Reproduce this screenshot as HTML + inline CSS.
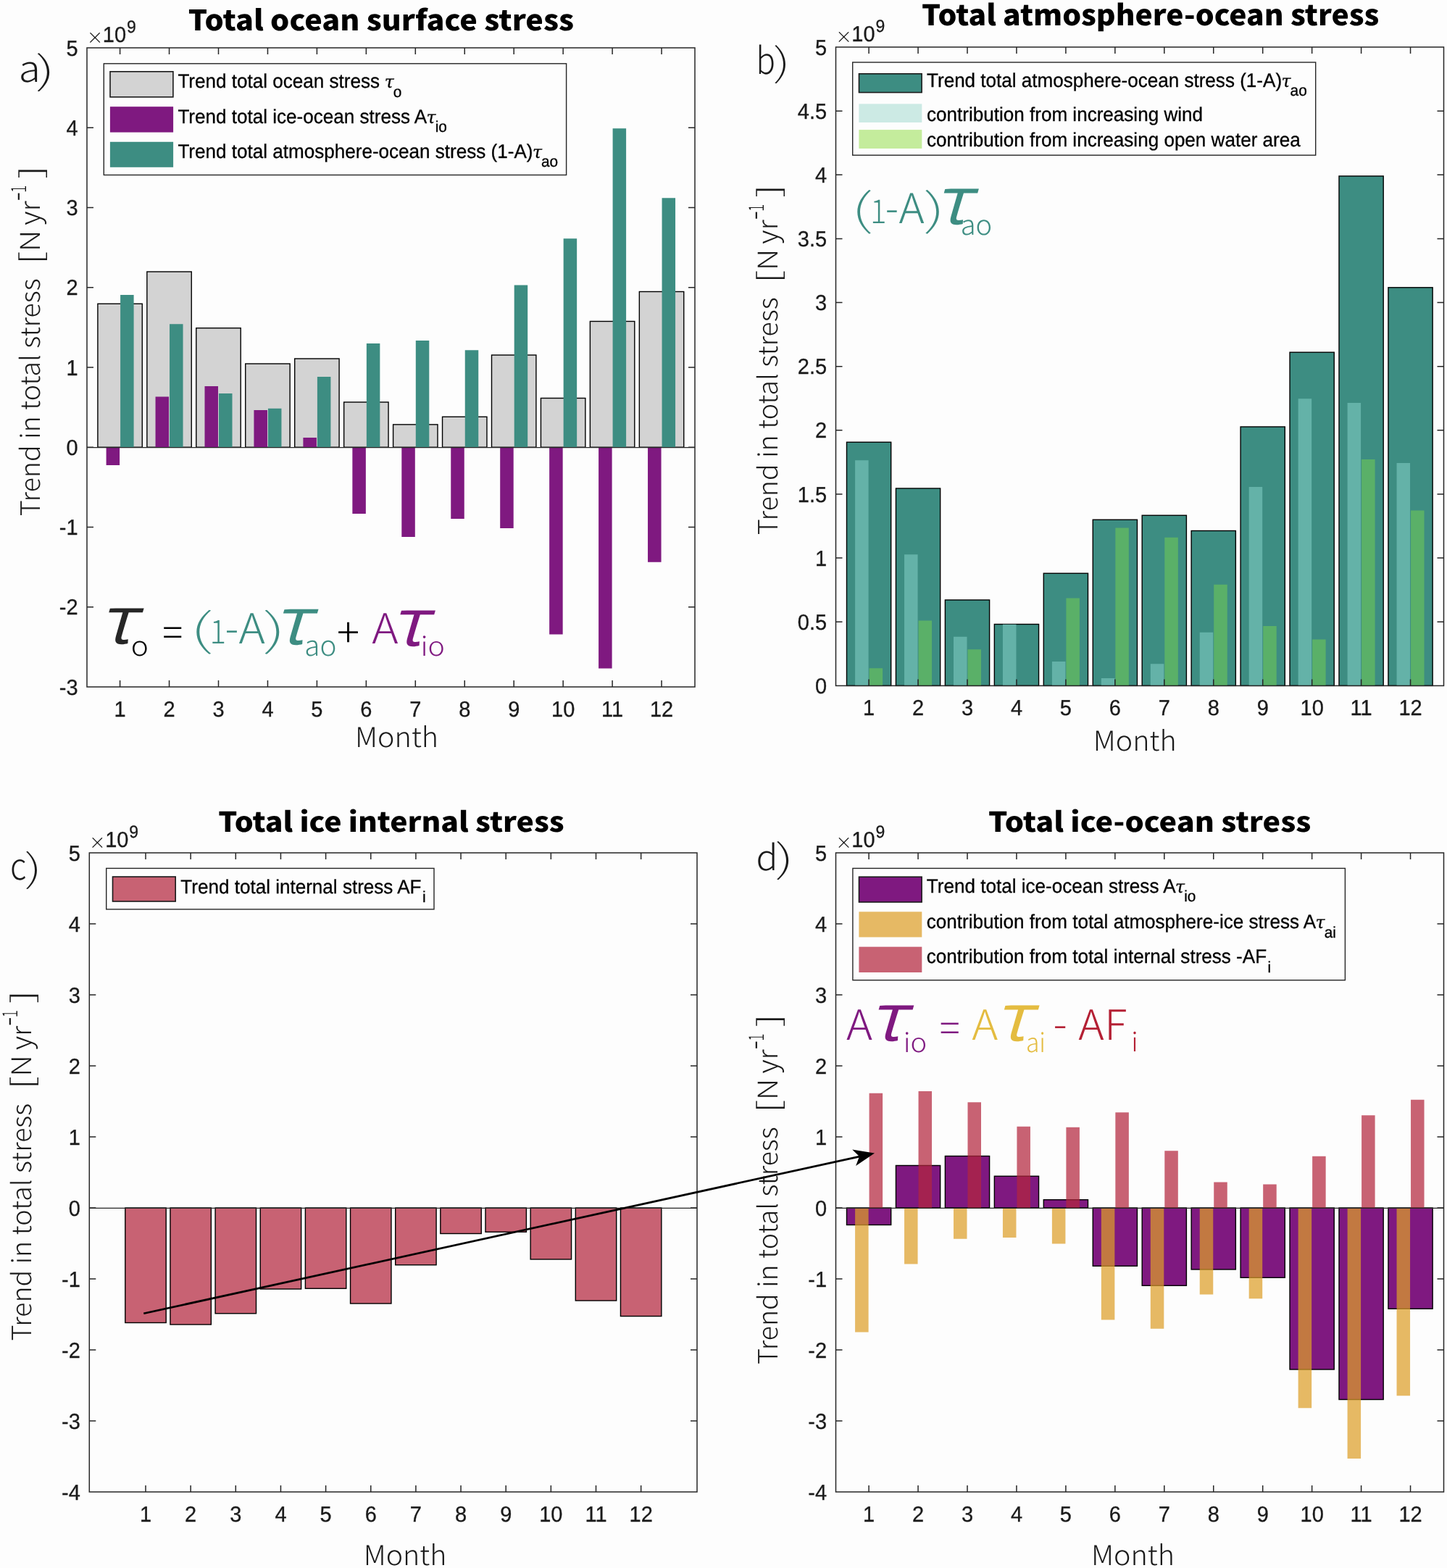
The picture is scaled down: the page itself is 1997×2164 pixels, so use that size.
<!DOCTYPE html>
<html lang="en">
<head>
<meta charset="utf-8">
<title>Trends in total stress</title>
<style>
html,body{margin:0;padding:0;background:#fdfdfd;}
body{width:1997px;height:2164px;overflow:hidden;}
svg{display:block;}
text{white-space:pre;}
</style>
</head>
<body>
<svg width="1997" height="2164" viewBox="0 0 1997 2164" text-rendering="geometricPrecision">
<rect x="0" y="0" width="1997" height="2164" fill="#fdfdfd"/>

<g id="panel-a">
<rect x="134.9" y="419.25" width="61.4" height="198" fill="#d3d3d3" stroke="#000" stroke-width="1.4"/>
<rect x="202.85" y="375" width="61.4" height="242.25" fill="#d3d3d3" stroke="#000" stroke-width="1.4"/>
<rect x="270.8" y="452.75" width="61.4" height="164.5" fill="#d3d3d3" stroke="#000" stroke-width="1.4"/>
<rect x="338.75" y="502" width="61.4" height="115.25" fill="#d3d3d3" stroke="#000" stroke-width="1.4"/>
<rect x="406.7" y="495" width="61.4" height="122.25" fill="#d3d3d3" stroke="#000" stroke-width="1.4"/>
<rect x="474.65" y="555" width="61.4" height="62.25" fill="#d3d3d3" stroke="#000" stroke-width="1.4"/>
<rect x="542.6" y="585.9" width="61.4" height="31.35" fill="#d3d3d3" stroke="#000" stroke-width="1.4"/>
<rect x="610.55" y="575.25" width="61.4" height="42" fill="#d3d3d3" stroke="#000" stroke-width="1.4"/>
<rect x="678.5" y="490" width="61.4" height="127.25" fill="#d3d3d3" stroke="#000" stroke-width="1.4"/>
<rect x="746.45" y="549.5" width="61.4" height="67.75" fill="#d3d3d3" stroke="#000" stroke-width="1.4"/>
<rect x="814.4" y="443.5" width="61.4" height="173.75" fill="#d3d3d3" stroke="#000" stroke-width="1.4"/>
<rect x="882.35" y="402.5" width="61.4" height="214.75" fill="#d3d3d3" stroke="#000" stroke-width="1.4"/>
<rect x="146.6" y="617.25" width="18.5" height="24.75" fill="#7f1980"/>
<rect x="214.55" y="547.5" width="18.5" height="69.75" fill="#7f1980"/>
<rect x="282.5" y="533" width="18.5" height="84.25" fill="#7f1980"/>
<rect x="350.45" y="566" width="18.5" height="51.25" fill="#7f1980"/>
<rect x="418.4" y="604" width="18.5" height="13.25" fill="#7f1980"/>
<rect x="486.35" y="617.25" width="18.5" height="91.75" fill="#7f1980"/>
<rect x="554.3" y="617.25" width="18.5" height="123.75" fill="#7f1980"/>
<rect x="622.25" y="617.25" width="18.5" height="98.75" fill="#7f1980"/>
<rect x="690.2" y="617.25" width="18.5" height="111.75" fill="#7f1980"/>
<rect x="758.15" y="617.25" width="18.5" height="258.25" fill="#7f1980"/>
<rect x="826.1" y="617.25" width="18.5" height="305.25" fill="#7f1980"/>
<rect x="894.05" y="617.25" width="18.5" height="158.5" fill="#7f1980"/>
<rect x="166.1" y="407" width="18.5" height="210.25" fill="#3d8d82"/>
<rect x="234.05" y="447.25" width="18.5" height="170" fill="#3d8d82"/>
<rect x="302" y="543" width="18.5" height="74.25" fill="#3d8d82"/>
<rect x="369.95" y="563.75" width="18.5" height="53.5" fill="#3d8d82"/>
<rect x="437.9" y="520" width="18.5" height="97.25" fill="#3d8d82"/>
<rect x="505.85" y="474" width="18.5" height="143.25" fill="#3d8d82"/>
<rect x="573.8" y="470" width="18.5" height="147.25" fill="#3d8d82"/>
<rect x="641.75" y="483.25" width="18.5" height="134" fill="#3d8d82"/>
<rect x="709.7" y="393.5" width="18.5" height="223.75" fill="#3d8d82"/>
<rect x="777.65" y="329.25" width="18.5" height="288" fill="#3d8d82"/>
<rect x="845.6" y="177.25" width="18.5" height="440" fill="#3d8d82"/>
<rect x="913.55" y="273.25" width="18.5" height="344" fill="#3d8d82"/>
<line x1="120" y1="617.6" x2="959" y2="617.6" stroke="#262626" stroke-width="1.2"/>
<rect x="120" y="66" width="839" height="882" fill="none" stroke="#262626" stroke-width="1.5"/>
<path d="M165.6 948v-9M165.6 66v9M233.55 948v-9M233.55 66v9M301.5 948v-9M301.5 66v9M369.45 948v-9M369.45 66v9M437.4 948v-9M437.4 66v9M505.35 948v-9M505.35 66v9M573.3 948v-9M573.3 66v9M641.25 948v-9M641.25 66v9M709.2 948v-9M709.2 66v9M777.15 948v-9M777.15 66v9M845.1 948v-9M845.1 66v9M913.05 948v-9M913.05 66v9M120 837.75h9M959 837.75h-9M120 727.5h9M959 727.5h-9M120 617.25h9M959 617.25h-9M120 507h9M959 507h-9M120 396.75h9M959 396.75h-9M120 286.5h9M959 286.5h-9M120 176.25h9M959 176.25h-9" fill="none" stroke="#262626" stroke-width="1.5"/>
<g transform="scale(1 1.04)" font-family="'Liberation Sans', Arial, Helvetica, sans-serif" font-size="29" fill="#1a1a1a" stroke="#1a1a1a" stroke-width="0.3">
<g text-anchor="middle">
<text x="165.6" y="950.96">1</text>
<text x="233.55" y="950.96">2</text>
<text x="301.5" y="950.96">3</text>
<text x="369.45" y="950.96">4</text>
<text x="437.4" y="950.96">5</text>
<text x="505.35" y="950.96">6</text>
<text x="573.3" y="950.96">7</text>
<text x="641.25" y="950.96">8</text>
<text x="709.2" y="950.96">9</text>
<text x="777.15" y="950.96">10</text>
<text x="845.1" y="950.96">11</text>
<text x="913.05" y="950.96">12</text>
</g><g text-anchor="end">
<text x="107.6" y="921.73">-3</text>
<text x="107.6" y="815.72">-2</text>
<text x="107.6" y="709.71">-1</text>
<text x="107.6" y="603.7">0</text>
<text x="107.6" y="497.69">1</text>
<text x="107.6" y="391.68">2</text>
<text x="107.6" y="285.67">3</text>
<text x="107.6" y="179.66">4</text>
<text x="107.6" y="73.65">5</text>
</g>
<text x="141.85" y="56.06">10</text>
<text x="175" y="43.37" font-size="23">9</text>
</g>
</g>
<g id="panel-b">
<rect x="1168.5" y="610.25" width="61.2" height="336.15" fill="#3d8d82" stroke="#000" stroke-width="1.4"/>
<rect x="1236.45" y="674" width="61.2" height="272.4" fill="#3d8d82" stroke="#000" stroke-width="1.4"/>
<rect x="1304.4" y="828" width="61.2" height="118.4" fill="#3d8d82" stroke="#000" stroke-width="1.4"/>
<rect x="1372.35" y="861.5" width="61.2" height="84.9" fill="#3d8d82" stroke="#000" stroke-width="1.4"/>
<rect x="1440.3" y="791.25" width="61.2" height="155.15" fill="#3d8d82" stroke="#000" stroke-width="1.4"/>
<rect x="1508.25" y="717.25" width="61.2" height="229.15" fill="#3d8d82" stroke="#000" stroke-width="1.4"/>
<rect x="1576.2" y="711.25" width="61.2" height="235.15" fill="#3d8d82" stroke="#000" stroke-width="1.4"/>
<rect x="1644.15" y="732.5" width="61.2" height="213.9" fill="#3d8d82" stroke="#000" stroke-width="1.4"/>
<rect x="1712.1" y="589" width="61.2" height="357.4" fill="#3d8d82" stroke="#000" stroke-width="1.4"/>
<rect x="1780.05" y="486.2" width="61.2" height="460.2" fill="#3d8d82" stroke="#000" stroke-width="1.4"/>
<rect x="1848" y="243" width="61.2" height="703.4" fill="#3d8d82" stroke="#000" stroke-width="1.4"/>
<rect x="1915.95" y="396.8" width="61.2" height="549.6" fill="#3d8d82" stroke="#000" stroke-width="1.4"/>
<rect x="1180.1" y="635.25" width="18.5" height="311.15" fill="#64b2a8"/>
<rect x="1248.05" y="765.25" width="18.5" height="181.15" fill="#64b2a8"/>
<rect x="1316" y="878.75" width="18.5" height="67.65" fill="#64b2a8"/>
<rect x="1383.95" y="861.75" width="18.5" height="84.65" fill="#64b2a8"/>
<rect x="1451.9" y="913" width="18.5" height="33.4" fill="#64b2a8"/>
<rect x="1519.85" y="936" width="18.5" height="10.4" fill="#64b2a8"/>
<rect x="1587.8" y="916.25" width="18.5" height="30.15" fill="#64b2a8"/>
<rect x="1655.75" y="872.75" width="18.5" height="73.65" fill="#64b2a8"/>
<rect x="1723.7" y="672" width="18.5" height="274.4" fill="#64b2a8"/>
<rect x="1791.65" y="550.25" width="18.5" height="396.15" fill="#64b2a8"/>
<rect x="1859.6" y="556" width="18.5" height="390.4" fill="#64b2a8"/>
<rect x="1927.55" y="639" width="18.5" height="307.4" fill="#64b2a8"/>
<rect x="1199.6" y="922.25" width="18.5" height="24.15" fill="#5ab068"/>
<rect x="1267.55" y="856.5" width="18.5" height="89.9" fill="#5ab068"/>
<rect x="1335.5" y="896.25" width="18.5" height="50.15" fill="#5ab068"/>
<rect x="1471.4" y="825.5" width="18.5" height="120.9" fill="#5ab068"/>
<rect x="1539.35" y="728.5" width="18.5" height="217.9" fill="#5ab068"/>
<rect x="1607.3" y="741.75" width="18.5" height="204.65" fill="#5ab068"/>
<rect x="1675.25" y="806.75" width="18.5" height="139.65" fill="#5ab068"/>
<rect x="1743.2" y="864" width="18.5" height="82.4" fill="#5ab068"/>
<rect x="1811.15" y="882.5" width="18.5" height="63.9" fill="#5ab068"/>
<rect x="1879.1" y="634" width="18.5" height="312.4" fill="#5ab068"/>
<rect x="1947.05" y="704.5" width="18.5" height="241.9" fill="#5ab068"/>
<rect x="1153.5" y="65" width="839" height="881.4" fill="none" stroke="#262626" stroke-width="1.5"/>
<path d="M1199.1 946.4v-9M1199.1 65v9M1267.05 946.4v-9M1267.05 65v9M1335 946.4v-9M1335 65v9M1402.95 946.4v-9M1402.95 65v9M1470.9 946.4v-9M1470.9 65v9M1538.85 946.4v-9M1538.85 65v9M1606.8 946.4v-9M1606.8 65v9M1674.75 946.4v-9M1674.75 65v9M1742.7 946.4v-9M1742.7 65v9M1810.65 946.4v-9M1810.65 65v9M1878.6 946.4v-9M1878.6 65v9M1946.55 946.4v-9M1946.55 65v9M1153.5 858.26h9M1992.5 858.26h-9M1153.5 770.12h9M1992.5 770.12h-9M1153.5 681.98h9M1992.5 681.98h-9M1153.5 593.84h9M1992.5 593.84h-9M1153.5 505.7h9M1992.5 505.7h-9M1153.5 417.56h9M1992.5 417.56h-9M1153.5 329.42h9M1992.5 329.42h-9M1153.5 241.28h9M1992.5 241.28h-9M1153.5 153.14h9M1992.5 153.14h-9" fill="none" stroke="#262626" stroke-width="1.5"/>
<g transform="scale(1 1.04)" font-family="'Liberation Sans', Arial, Helvetica, sans-serif" font-size="29" fill="#1a1a1a" stroke="#1a1a1a" stroke-width="0.3">
<g text-anchor="middle">
<text x="1199.1" y="949.42">1</text>
<text x="1267.05" y="949.42">2</text>
<text x="1335" y="949.42">3</text>
<text x="1402.95" y="949.42">4</text>
<text x="1470.9" y="949.42">5</text>
<text x="1538.85" y="949.42">6</text>
<text x="1606.8" y="949.42">7</text>
<text x="1674.75" y="949.42">8</text>
<text x="1742.7" y="949.42">9</text>
<text x="1810.65" y="949.42">10</text>
<text x="1878.6" y="949.42">11</text>
<text x="1946.55" y="949.42">12</text>
</g><g text-anchor="end">
<text x="1141.1" y="920.19">0</text>
<text x="1141.1" y="835.44">0.5</text>
<text x="1141.1" y="750.69">1</text>
<text x="1141.1" y="665.94">1.5</text>
<text x="1141.1" y="581.19">2</text>
<text x="1141.1" y="496.44">2.5</text>
<text x="1141.1" y="411.69">3</text>
<text x="1141.1" y="326.94">3.5</text>
<text x="1141.1" y="242.19">4</text>
<text x="1141.1" y="157.44">4.5</text>
<text x="1141.1" y="72.69">5</text>
</g>
<text x="1175.35" y="55.1">10</text>
<text x="1208.5" y="42.4" font-size="23">9</text>
</g>
</g>
<g id="panel-c">
<rect x="172.8" y="1667" width="56.4" height="158.5" fill="#c86273" stroke="#000" stroke-width="1.4"/>
<rect x="234.95" y="1667" width="56.4" height="161" fill="#c86273" stroke="#000" stroke-width="1.4"/>
<rect x="297.1" y="1667" width="56.4" height="145.75" fill="#c86273" stroke="#000" stroke-width="1.4"/>
<rect x="359.25" y="1667" width="56.4" height="112" fill="#c86273" stroke="#000" stroke-width="1.4"/>
<rect x="421.4" y="1667" width="56.4" height="111.25" fill="#c86273" stroke="#000" stroke-width="1.4"/>
<rect x="483.55" y="1667" width="56.4" height="132" fill="#c86273" stroke="#000" stroke-width="1.4"/>
<rect x="545.7" y="1667" width="56.4" height="78.75" fill="#c86273" stroke="#000" stroke-width="1.4"/>
<rect x="607.85" y="1667" width="56.4" height="35.5" fill="#c86273" stroke="#000" stroke-width="1.4"/>
<rect x="670" y="1667" width="56.4" height="33.25" fill="#c86273" stroke="#000" stroke-width="1.4"/>
<rect x="732.15" y="1667" width="56.4" height="71" fill="#c86273" stroke="#000" stroke-width="1.4"/>
<rect x="794.3" y="1667" width="56.4" height="128" fill="#c86273" stroke="#000" stroke-width="1.4"/>
<rect x="856.45" y="1667" width="56.4" height="149.5" fill="#c86273" stroke="#000" stroke-width="1.4"/>
<line x1="123.3" y1="1667.35" x2="962" y2="1667.35" stroke="#262626" stroke-width="1.2"/>
<rect x="123.3" y="1177" width="838.7" height="882" fill="none" stroke="#262626" stroke-width="1.5"/>
<path d="M201 2059v-9M201 1177v9M263.15 2059v-9M263.15 1177v9M325.3 2059v-9M325.3 1177v9M387.45 2059v-9M387.45 1177v9M449.6 2059v-9M449.6 1177v9M511.75 2059v-9M511.75 1177v9M573.9 2059v-9M573.9 1177v9M636.05 2059v-9M636.05 1177v9M698.2 2059v-9M698.2 1177v9M760.35 2059v-9M760.35 1177v9M822.5 2059v-9M822.5 1177v9M884.65 2059v-9M884.65 1177v9M123.3 1961h9M962 1961h-9M123.3 1863h9M962 1863h-9M123.3 1765h9M962 1765h-9M123.3 1667h9M962 1667h-9M123.3 1569h9M962 1569h-9M123.3 1471h9M962 1471h-9M123.3 1373h9M962 1373h-9M123.3 1275h9M962 1275h-9" fill="none" stroke="#262626" stroke-width="1.5"/>
<g transform="scale(1 1.04)" font-family="'Liberation Sans', Arial, Helvetica, sans-serif" font-size="29" fill="#1a1a1a" stroke="#1a1a1a" stroke-width="0.3">
<g text-anchor="middle">
<text x="201" y="2019.23">1</text>
<text x="263.15" y="2019.23">2</text>
<text x="325.3" y="2019.23">3</text>
<text x="387.45" y="2019.23">4</text>
<text x="449.6" y="2019.23">5</text>
<text x="511.75" y="2019.23">6</text>
<text x="573.9" y="2019.23">7</text>
<text x="636.05" y="2019.23">8</text>
<text x="698.2" y="2019.23">9</text>
<text x="760.35" y="2019.23">10</text>
<text x="822.5" y="2019.23">11</text>
<text x="884.65" y="2019.23">12</text>
</g><g text-anchor="end">
<text x="110.9" y="1990">-4</text>
<text x="110.9" y="1895.77">-3</text>
<text x="110.9" y="1801.54">-2</text>
<text x="110.9" y="1707.31">-1</text>
<text x="110.9" y="1613.08">0</text>
<text x="110.9" y="1518.85">1</text>
<text x="110.9" y="1424.62">2</text>
<text x="110.9" y="1330.38">3</text>
<text x="110.9" y="1236.15">4</text>
<text x="110.9" y="1141.92">5</text>
</g>
<text x="145.15" y="1124.33">10</text>
<text x="178.3" y="1111.63" font-size="23">9</text>
</g>
</g>
<g id="panel-d">
<rect x="1168.5" y="1667" width="61.2" height="23.5" fill="#7f1980" stroke="#000" stroke-width="1.4"/>
<rect x="1236.45" y="1608.5" width="61.2" height="58.5" fill="#7f1980" stroke="#000" stroke-width="1.4"/>
<rect x="1304.4" y="1595.5" width="61.2" height="71.5" fill="#7f1980" stroke="#000" stroke-width="1.4"/>
<rect x="1372.35" y="1623.25" width="61.2" height="43.75" fill="#7f1980" stroke="#000" stroke-width="1.4"/>
<rect x="1440.3" y="1655.75" width="61.2" height="11.25" fill="#7f1980" stroke="#000" stroke-width="1.4"/>
<rect x="1508.25" y="1667" width="61.2" height="80.25" fill="#7f1980" stroke="#000" stroke-width="1.4"/>
<rect x="1576.2" y="1667" width="61.2" height="107.25" fill="#7f1980" stroke="#000" stroke-width="1.4"/>
<rect x="1644.15" y="1667" width="61.2" height="85" fill="#7f1980" stroke="#000" stroke-width="1.4"/>
<rect x="1712.1" y="1667" width="61.2" height="96.25" fill="#7f1980" stroke="#000" stroke-width="1.4"/>
<rect x="1780.05" y="1667" width="61.2" height="223" fill="#7f1980" stroke="#000" stroke-width="1.4"/>
<rect x="1848" y="1667" width="61.2" height="264.5" fill="#7f1980" stroke="#000" stroke-width="1.4"/>
<rect x="1915.95" y="1667" width="61.2" height="139.25" fill="#7f1980" stroke="#000" stroke-width="1.4"/>
<rect x="1180.1" y="1667" width="18.5" height="171.5" fill="#dc9e28" fill-opacity="0.72"/>
<rect x="1248.05" y="1667" width="18.5" height="77.5" fill="#dc9e28" fill-opacity="0.72"/>
<rect x="1316" y="1667" width="18.5" height="42.75" fill="#dc9e28" fill-opacity="0.72"/>
<rect x="1383.95" y="1667" width="18.5" height="41" fill="#dc9e28" fill-opacity="0.72"/>
<rect x="1451.9" y="1667" width="18.5" height="49.5" fill="#dc9e28" fill-opacity="0.72"/>
<rect x="1519.85" y="1667" width="18.5" height="154.5" fill="#dc9e28" fill-opacity="0.72"/>
<rect x="1587.8" y="1667" width="18.5" height="166.75" fill="#dc9e28" fill-opacity="0.72"/>
<rect x="1655.75" y="1667" width="18.5" height="119.5" fill="#dc9e28" fill-opacity="0.72"/>
<rect x="1723.7" y="1667" width="18.5" height="125.25" fill="#dc9e28" fill-opacity="0.72"/>
<rect x="1791.65" y="1667" width="18.5" height="276.25" fill="#dc9e28" fill-opacity="0.72"/>
<rect x="1859.6" y="1667" width="18.5" height="346" fill="#dc9e28" fill-opacity="0.72"/>
<rect x="1927.55" y="1667" width="18.5" height="259.25" fill="#dc9e28" fill-opacity="0.72"/>
<rect x="1199.6" y="1508.75" width="18.5" height="158.25" fill="#b3253d" fill-opacity="0.72"/>
<rect x="1267.55" y="1506" width="18.5" height="161" fill="#b3253d" fill-opacity="0.72"/>
<rect x="1335.5" y="1521.25" width="18.5" height="145.75" fill="#b3253d" fill-opacity="0.72"/>
<rect x="1403.45" y="1554.75" width="18.5" height="112.25" fill="#b3253d" fill-opacity="0.72"/>
<rect x="1471.4" y="1555.75" width="18.5" height="111.25" fill="#b3253d" fill-opacity="0.72"/>
<rect x="1539.35" y="1535.25" width="18.5" height="131.75" fill="#b3253d" fill-opacity="0.72"/>
<rect x="1607.3" y="1588.25" width="18.5" height="78.75" fill="#b3253d" fill-opacity="0.72"/>
<rect x="1675.25" y="1631.5" width="18.5" height="35.5" fill="#b3253d" fill-opacity="0.72"/>
<rect x="1743.2" y="1634.5" width="18.5" height="32.5" fill="#b3253d" fill-opacity="0.72"/>
<rect x="1811.15" y="1595.75" width="18.5" height="71.25" fill="#b3253d" fill-opacity="0.72"/>
<rect x="1879.1" y="1539.25" width="18.5" height="127.75" fill="#b3253d" fill-opacity="0.72"/>
<rect x="1947.05" y="1517.75" width="18.5" height="149.25" fill="#b3253d" fill-opacity="0.72"/>
<line x1="1153.5" y1="1667.35" x2="1992.5" y2="1667.35" stroke="#262626" stroke-width="1.2"/>
<rect x="1153.5" y="1177" width="839" height="882" fill="none" stroke="#262626" stroke-width="1.5"/>
<path d="M1199.1 2059v-9M1199.1 1177v9M1267.05 2059v-9M1267.05 1177v9M1335 2059v-9M1335 1177v9M1402.95 2059v-9M1402.95 1177v9M1470.9 2059v-9M1470.9 1177v9M1538.85 2059v-9M1538.85 1177v9M1606.8 2059v-9M1606.8 1177v9M1674.75 2059v-9M1674.75 1177v9M1742.7 2059v-9M1742.7 1177v9M1810.65 2059v-9M1810.65 1177v9M1878.6 2059v-9M1878.6 1177v9M1946.55 2059v-9M1946.55 1177v9M1153.5 1961h9M1992.5 1961h-9M1153.5 1863h9M1992.5 1863h-9M1153.5 1765h9M1992.5 1765h-9M1153.5 1667h9M1992.5 1667h-9M1153.5 1569h9M1992.5 1569h-9M1153.5 1471h9M1992.5 1471h-9M1153.5 1373h9M1992.5 1373h-9M1153.5 1275h9M1992.5 1275h-9" fill="none" stroke="#262626" stroke-width="1.5"/>
<g transform="scale(1 1.04)" font-family="'Liberation Sans', Arial, Helvetica, sans-serif" font-size="29" fill="#1a1a1a" stroke="#1a1a1a" stroke-width="0.3">
<g text-anchor="middle">
<text x="1199.1" y="2019.23">1</text>
<text x="1267.05" y="2019.23">2</text>
<text x="1335" y="2019.23">3</text>
<text x="1402.95" y="2019.23">4</text>
<text x="1470.9" y="2019.23">5</text>
<text x="1538.85" y="2019.23">6</text>
<text x="1606.8" y="2019.23">7</text>
<text x="1674.75" y="2019.23">8</text>
<text x="1742.7" y="2019.23">9</text>
<text x="1810.65" y="2019.23">10</text>
<text x="1878.6" y="2019.23">11</text>
<text x="1946.55" y="2019.23">12</text>
</g><g text-anchor="end">
<text x="1141.1" y="1990">-4</text>
<text x="1141.1" y="1895.77">-3</text>
<text x="1141.1" y="1801.54">-2</text>
<text x="1141.1" y="1707.31">-1</text>
<text x="1141.1" y="1613.08">0</text>
<text x="1141.1" y="1518.85">1</text>
<text x="1141.1" y="1424.62">2</text>
<text x="1141.1" y="1330.38">3</text>
<text x="1141.1" y="1236.15">4</text>
<text x="1141.1" y="1141.92">5</text>
</g>
<text x="1175.35" y="1124.33">10</text>
<text x="1208.5" y="1111.63" font-size="23">9</text>
</g>
</g>
<rect x="143.3" y="87.8" width="638.3" height="153.7" fill="#fdfdfd" stroke="#262626" stroke-width="1.4"/>
<rect x="152" y="98.8" width="86.9" height="35.1" fill="#d3d3d3" stroke="#1a1a1a" stroke-width="1.6"/>
<rect x="151.9" y="147.2" width="87.2" height="35.4" fill="#7f1980"/>
<rect x="151.9" y="195.8" width="87.2" height="35" fill="#3d8d82"/>
<text transform="translate(245.4 121.3) scale(1 1.035)" font-family="'Liberation Sans', Arial, Helvetica, sans-serif" font-size="26.07" fill="#000" stroke="#000" stroke-width="0.3">Trend total ocean stress <tspan font-family="'DejaVu Serif', 'Liberation Serif', serif" font-style="italic" font-size="23.5" dx="-0.6">τ</tspan><tspan font-size="20.8" dy="12.08" dx="-0.9">o</tspan></text>
<text transform="translate(245.4 169.5) scale(1 1.035)" font-family="'Liberation Sans', Arial, Helvetica, sans-serif" font-size="26.07" fill="#000" stroke="#000" stroke-width="0.3">Trend total ice-ocean stress A<tspan font-family="'DejaVu Serif', 'Liberation Serif', serif" font-style="italic" font-size="23.5" dx="-0.6">τ</tspan><tspan font-size="20.8" dy="12.08" dx="-0.9">io</tspan></text>
<text transform="translate(245.4 217.7) scale(1 1.035)" font-family="'Liberation Sans', Arial, Helvetica, sans-serif" font-size="26.07" fill="#000" stroke="#000" stroke-width="0.3">Trend total atmosphere-ocean stress (1-A)<tspan font-family="'DejaVu Serif', 'Liberation Serif', serif" font-style="italic" font-size="23.5" dx="-0.6">τ</tspan><tspan font-size="20.8" dy="12.08" dx="-0.9">ao</tspan></text>
<rect x="1176.7" y="86" width="639" height="128.2" fill="#fdfdfd" stroke="#262626" stroke-width="1.4"/>
<rect x="1185.5" y="101.8" width="86.6" height="25.8" fill="#3d8d82" stroke="#1a1a1a" stroke-width="1.6"/>
<rect x="1185.4" y="143.4" width="86.9" height="25.6" fill="#cceae4"/>
<rect x="1185.4" y="179.1" width="86.9" height="25.9" fill="#c4ec9c"/>
<text transform="translate(1279 119.5) scale(1 1.035)" font-family="'Liberation Sans', Arial, Helvetica, sans-serif" font-size="26.07" fill="#000" stroke="#000" stroke-width="0.3">Trend total atmosphere-ocean stress (1-A)<tspan font-family="'DejaVu Serif', 'Liberation Serif', serif" font-style="italic" font-size="23.5" dx="-0.6">τ</tspan><tspan font-size="20.8" dy="12.08" dx="-0.9">ao</tspan></text>
<text transform="translate(1279 167) scale(1 1.035)" font-family="'Liberation Sans', Arial, Helvetica, sans-serif" font-size="26.07" fill="#000" stroke="#000" stroke-width="0.3">contribution from increasing wind</text>
<text transform="translate(1279 202.3) scale(1 1.035)" font-family="'Liberation Sans', Arial, Helvetica, sans-serif" font-size="26.07" fill="#000" stroke="#000" stroke-width="0.3">contribution from increasing open water area</text>
<rect x="146.7" y="1198.4" width="452.3" height="56.5" fill="#fdfdfd" stroke="#262626" stroke-width="1.4"/>
<rect x="155.5" y="1210" width="86.7" height="34" fill="#c86273" stroke="#1a1a1a" stroke-width="1.6"/>
<text transform="translate(249.3 1232.5) scale(1 1.035)" font-family="'Liberation Sans', Arial, Helvetica, sans-serif" font-size="26.07" fill="#000" stroke="#000" stroke-width="0.3">Trend total internal stress AF<tspan font-size="20.8" dy="12.08" dx="1.5">i</tspan></text>
<rect x="1176.9" y="1198.4" width="679.5" height="154.3" fill="#fdfdfd" stroke="#262626" stroke-width="1.4"/>
<rect x="1185.5" y="1210.2" width="86.6" height="34.8" fill="#7f1980" stroke="#1a1a1a" stroke-width="1.6"/>
<rect x="1185.4" y="1258.3" width="86.9" height="35.1" fill="#e6b964"/>
<rect x="1185.4" y="1306.7" width="86.9" height="35.3" fill="#c86273"/>
<text transform="translate(1278.8 1231.9) scale(1 1.035)" font-family="'Liberation Sans', Arial, Helvetica, sans-serif" font-size="26.07" fill="#000" stroke="#000" stroke-width="0.3">Trend total ice-ocean stress A<tspan font-family="'DejaVu Serif', 'Liberation Serif', serif" font-style="italic" font-size="23.5" dx="-0.6">τ</tspan><tspan font-size="20.8" dy="12.08" dx="-0.9">io</tspan></text>
<text transform="translate(1278.8 1281.1) scale(1 1.035)" font-family="'Liberation Sans', Arial, Helvetica, sans-serif" font-size="26.07" fill="#000" stroke="#000" stroke-width="0.3">contribution from total atmosphere-ice stress A<tspan font-family="'DejaVu Serif', 'Liberation Serif', serif" font-style="italic" font-size="23.5" dx="-0.6">τ</tspan><tspan font-size="20.8" dy="12.08" dx="-0.9">ai</tspan></text>
<text transform="translate(1278.8 1329.2) scale(1 1.035)" font-family="'Liberation Sans', Arial, Helvetica, sans-serif" font-size="26.07" fill="#000" stroke="#000" stroke-width="0.3">contribution from total internal stress -AF<tspan font-size="20.8" dy="12.08" dx="1.5">i</tspan></text>
<text transform="translate(259.86 41.7) scale(1.0612 1)" font-family="'Noto Sans CJK JP', 'Noto Sans CJK SC', 'Liberation Sans', sans-serif" font-weight="900" font-size="38.89" fill="#000">Total ocean surface stress</text>
<text transform="translate(1272.08 35.3) scale(1.0363 1)" font-family="'Noto Sans CJK JP', 'Noto Sans CJK SC', 'Liberation Sans', sans-serif" font-weight="900" font-size="39.38" fill="#000">Total atmosphere-ocean stress</text>
<text transform="translate(301.27 1148.2) scale(1.0771 1)" font-family="'Noto Sans CJK JP', 'Noto Sans CJK SC', 'Liberation Sans', sans-serif" font-weight="900" font-size="37.95" fill="#000">Total ice internal stress</text>
<text transform="translate(1363.96 1147.7) scale(1.0891 1)" font-family="'Noto Sans CJK JP', 'Noto Sans CJK SC', 'Liberation Sans', sans-serif" font-weight="900" font-size="37.95" fill="#000">Total ice-ocean stress</text>
<text transform="translate(490.06 1030.9) scale(1.0454 1)" font-family="'Noto Sans CJK JP', 'Noto Sans CJK SC', 'Liberation Sans', sans-serif" font-weight="300" font-size="37.74" fill="#1a1a1a">Month</text>
<text transform="translate(1508.76 1035.8) scale(1.0444 1)" font-family="'Noto Sans CJK JP', 'Noto Sans CJK SC', 'Liberation Sans', sans-serif" font-weight="300" font-size="37.74" fill="#1a1a1a">Month</text>
<text transform="translate(501.67 2159.9) scale(1.0425 1)" font-family="'Noto Sans CJK JP', 'Noto Sans CJK SC', 'Liberation Sans', sans-serif" font-weight="300" font-size="37.74" fill="#1a1a1a">Month</text>
<text transform="translate(1505.95 2159.9) scale(1.0464 1)" font-family="'Noto Sans CJK JP', 'Noto Sans CJK SC', 'Liberation Sans', sans-serif" font-weight="300" font-size="37.74" fill="#1a1a1a">Month</text>
<text transform="translate(25.73 113) scale(1.0927 1)" font-family="'Noto Sans CJK JP', 'Noto Sans CJK SC', 'Liberation Sans', sans-serif" font-weight="300" font-size="50.28" fill="#1a1a1a">a</text>
<text transform="translate(48.56 116.41) scale(1.8479 1)" font-family="'Noto Sans CJK JP', 'Noto Sans CJK SC', 'Liberation Sans', sans-serif" font-weight="100" font-size="53.13" fill="#1a1a1a">)</text>
<text transform="translate(1043.52 102.3) scale(0.8593 1)" font-family="'Noto Sans CJK JP', 'Noto Sans CJK SC', 'Liberation Sans', sans-serif" font-weight="300" font-size="50.94" fill="#1a1a1a">b</text>
<text transform="translate(1066.55 104.71) scale(1.6426 1)" font-family="'Noto Sans CJK JP', 'Noto Sans CJK SC', 'Liberation Sans', sans-serif" font-weight="100" font-size="53.13" fill="#1a1a1a">)</text>
<text transform="translate(13.95 1214.2) scale(0.8677 1)" font-family="'Noto Sans CJK JP', 'Noto Sans CJK SC', 'Liberation Sans', sans-serif" font-weight="300" font-size="51.38" fill="#1a1a1a">c</text>
<text transform="translate(33.3 1216.6) scale(1.6814 1)" font-family="'Noto Sans CJK JP', 'Noto Sans CJK SC', 'Liberation Sans', sans-serif" font-weight="100" font-size="52.63" fill="#1a1a1a">)</text>
<text transform="translate(1043.47 1200.7) scale(1.0233 1)" font-family="'Noto Sans CJK JP', 'Noto Sans CJK SC', 'Liberation Sans', sans-serif" font-weight="300" font-size="48.43" fill="#1a1a1a">d</text>
<text transform="translate(1068.95 1204.25) scale(1.7921 1)" font-family="'Noto Sans CJK JP', 'Noto Sans CJK SC', 'Liberation Sans', sans-serif" font-weight="100" font-size="53.43" fill="#1a1a1a">)</text>
<text transform="translate(135.05 887.6) scale(1.1517 1)" font-family="'Noto Sans CJK JP', 'Noto Sans CJK SC', 'Liberation Sans', sans-serif" font-weight="350" font-style="italic" font-size="90" fill="#262626">τ</text>
<text transform="translate(180.67 904.73) scale(1.0890 1)" font-family="'Noto Sans CJK JP', 'Noto Sans CJK SC', 'Liberation Sans', sans-serif" font-weight="300" font-size="37.3" fill="#000">o</text>
<text transform="translate(224.27 891.6) scale(0.9936 1)" font-family="'Noto Sans CJK JP', 'Noto Sans CJK SC', 'Liberation Sans', sans-serif" font-weight="300" font-size="52.59" fill="#000">=</text>
<text transform="translate(259.56 891.33) scale(1.9441 1)" font-family="'Noto Sans CJK JP', 'Noto Sans CJK SC', 'Liberation Sans', sans-serif" font-weight="100" font-size="61.41" fill="#3d8d82">(</text>
<text transform="translate(289.61 888.2) scale(0.9305 1)" font-family="'Noto Sans CJK JP', 'Noto Sans CJK SC', 'Liberation Sans', sans-serif" font-weight="300" font-size="45.25" fill="#3d8d82">1</text>
<text transform="translate(310.47 886.4) scale(1.0832 1)" font-family="'Noto Sans CJK JP', 'Noto Sans CJK SC', 'Liberation Sans', sans-serif" font-weight="300" font-size="52" fill="#3d8d82">-</text>
<text transform="translate(329.58 888.2) scale(1.0785 1)" font-family="'Noto Sans CJK JP', 'Noto Sans CJK SC', 'Liberation Sans', sans-serif" font-weight="300" font-size="57.26" fill="#3d8d82">A</text>
<text transform="translate(361.68 891.33) scale(1.9145 1)" font-family="'Noto Sans CJK JP', 'Noto Sans CJK SC', 'Liberation Sans', sans-serif" font-weight="100" font-size="61.41" fill="#3d8d82">)</text>
<text transform="translate(375.45 889.41) scale(1.1660 1)" font-family="'Noto Sans CJK JP', 'Noto Sans CJK SC', 'Liberation Sans', sans-serif" font-weight="350" font-style="italic" font-size="89.45" fill="#3d8d82">τ</text>
<text transform="translate(420.29 905.11) scale(0.9971 1)" font-family="'Noto Sans CJK JP', 'Noto Sans CJK SC', 'Liberation Sans', sans-serif" font-weight="300" font-size="38.74" fill="#3d8d82">ao</text>
<text transform="translate(465.07 892.81) scale(1.0384 1)" font-family="'Noto Sans CJK JP', 'Noto Sans CJK SC', 'Liberation Sans', sans-serif" font-weight="300" font-size="55.92" fill="#000">+</text>
<text transform="translate(513.18 888.2) scale(1.0785 1)" font-family="'Noto Sans CJK JP', 'Noto Sans CJK SC', 'Liberation Sans', sans-serif" font-weight="300" font-size="57.26" fill="#7f1980">A</text>
<text transform="translate(536.99 891.1) scale(1.1565 1)" font-family="'Noto Sans CJK JP', 'Noto Sans CJK SC', 'Liberation Sans', sans-serif" font-weight="350" font-style="italic" font-size="90" fill="#7f1980">τ</text>
<text transform="translate(580.46 905.1) scale(1.0711 1)" font-family="'Noto Sans CJK JP', 'Noto Sans CJK SC', 'Liberation Sans', sans-serif" font-weight="300" font-size="36.69" fill="#7f1980">io</text>
<text transform="translate(1172.25 310.53) scale(1.8308 1)" font-family="'Noto Sans CJK JP', 'Noto Sans CJK SC', 'Liberation Sans', sans-serif" font-weight="100" font-size="60.91" fill="#3d8d82">(</text>
<text transform="translate(1200.91 307.5) scale(0.9219 1)" font-family="'Noto Sans CJK JP', 'Noto Sans CJK SC', 'Liberation Sans', sans-serif" font-weight="300" font-size="45.67" fill="#3d8d82">1</text>
<text transform="translate(1221.84 305.6) scale(1.0518 1)" font-family="'Noto Sans CJK JP', 'Noto Sans CJK SC', 'Liberation Sans', sans-serif" font-weight="300" font-size="52" fill="#3d8d82">-</text>
<text transform="translate(1240.6 307.5) scale(1.0523 1)" font-family="'Noto Sans CJK JP', 'Noto Sans CJK SC', 'Liberation Sans', sans-serif" font-weight="300" font-size="56.85" fill="#3d8d82">A</text>
<text transform="translate(1273.64 310.53) scale(1.8109 1)" font-family="'Noto Sans CJK JP', 'Noto Sans CJK SC', 'Liberation Sans', sans-serif" font-weight="100" font-size="60.91" fill="#3d8d82">)</text>
<text transform="translate(1287.42 309.2) scale(1.1516 1)" font-family="'Noto Sans CJK JP', 'Noto Sans CJK SC', 'Liberation Sans', sans-serif" font-weight="350" font-style="italic" font-size="89.64" fill="#3d8d82">τ</text>
<text transform="translate(1325.72 324.32) scale(1.0031 1)" font-family="'Noto Sans CJK JP', 'Noto Sans CJK SC', 'Liberation Sans', sans-serif" font-weight="300" font-size="38.02" fill="#3d8d82">ao</text>
<text transform="translate(1168.09 1434.8) scale(1.0693 1)" font-family="'Noto Sans CJK JP', 'Noto Sans CJK SC', 'Liberation Sans', sans-serif" font-weight="300" font-size="57.26" fill="#7f1980">A</text>
<text transform="translate(1197.15 1436.3) scale(1.1636 1)" font-family="'Noto Sans CJK JP', 'Noto Sans CJK SC', 'Liberation Sans', sans-serif" font-weight="350" font-style="italic" font-size="89.64" fill="#7f1980">τ</text>
<text transform="translate(1246.76 1451.7) scale(1.0403 1)" font-family="'Noto Sans CJK JP', 'Noto Sans CJK SC', 'Liberation Sans', sans-serif" font-weight="300" font-size="36.69" fill="#7f1980">io</text>
<text transform="translate(1296.77 1438.1) scale(0.9936 1)" font-family="'Noto Sans CJK JP', 'Noto Sans CJK SC', 'Liberation Sans', sans-serif" font-weight="300" font-size="52.59" fill="#7f1980">=</text>
<text transform="translate(1341.19 1434.8) scale(1.0693 1)" font-family="'Noto Sans CJK JP', 'Noto Sans CJK SC', 'Liberation Sans', sans-serif" font-weight="300" font-size="57.26" fill="#e4bc40">A</text>
<text transform="translate(1370.55 1436.3) scale(1.1636 1)" font-family="'Noto Sans CJK JP', 'Noto Sans CJK SC', 'Liberation Sans', sans-serif" font-weight="350" font-style="italic" font-size="89.64" fill="#e4bc40">τ</text>
<text transform="translate(1415.91 1451.7) scale(0.9168 1)" font-family="'Noto Sans CJK JP', 'Noto Sans CJK SC', 'Liberation Sans', sans-serif" font-weight="300" font-size="36.69" fill="#e4bc40">ai</text>
<text transform="translate(1453.51 1432.2) scale(1.1068 1)" font-family="'Noto Sans CJK JP', 'Noto Sans CJK SC', 'Liberation Sans', sans-serif" font-weight="300" font-size="52" fill="#b42034">-</text>
<text transform="translate(1488.3 1434.8) scale(1.0540 1)" font-family="'Noto Sans CJK JP', 'Noto Sans CJK SC', 'Liberation Sans', sans-serif" font-weight="300" font-size="57.26" fill="#b42034">A</text>
<text transform="translate(1524.28 1434.8) scale(1.0177 1)" font-family="'Noto Sans CJK JP', 'Noto Sans CJK SC', 'Liberation Sans', sans-serif" font-weight="300" font-size="57.26" fill="#b42034">F</text>
<text transform="translate(1561.28 1451.3) scale(1.0140 1)" font-family="'Noto Sans CJK JP', 'Noto Sans CJK SC', 'Liberation Sans', sans-serif" font-weight="300" font-size="36.16" fill="#b42034">i</text>
<g transform="translate(55.4 711.1) rotate(-90) scale(1 1)"><text transform="translate(-1.12 0) scale(1.0157 1)" font-family="'Noto Sans CJK JP', 'Noto Sans CJK SC', 'Liberation Sans', sans-serif" font-weight="300" font-size="36.86" fill="#1a1a1a">Trend in total stress</text><text transform="translate(345.84 2.92) scale(1.3861 1)" font-family="'Noto Sans CJK JP', 'Noto Sans CJK SC', 'Liberation Sans', sans-serif" font-weight="300" font-size="41.68" fill="#1a1a1a">[</text><text transform="translate(363.79 0) scale(1.1236 1)" font-family="'Noto Sans CJK JP', 'Noto Sans CJK SC', 'Liberation Sans', sans-serif" font-weight="300" font-size="37.4" fill="#1a1a1a">N</text><text transform="translate(400.41 0) scale(1.0361 1)" font-family="'Noto Sans CJK JP', 'Noto Sans CJK SC', 'Liberation Sans', sans-serif" font-weight="300" font-size="37.8" fill="#1a1a1a">yr</text><text transform="translate(433.61 -17.4) scale(0.8534 1)" font-family="'Noto Sans CJK JP', 'Noto Sans CJK SC', 'Liberation Sans', sans-serif" font-weight="300" font-size="44" fill="#1a1a1a">-</text><text transform="translate(445.19 -19.4) scale(0.6548 1)" font-family="'Noto Sans CJK JP', 'Noto Sans CJK SC', 'Liberation Sans', sans-serif" font-weight="300" font-size="28.94" fill="#1a1a1a">1</text><text transform="translate(464.66 2.92) scale(1.3861 1)" font-family="'Noto Sans CJK JP', 'Noto Sans CJK SC', 'Liberation Sans', sans-serif" font-weight="300" font-size="41.68" fill="#1a1a1a">]</text></g>
<g transform="translate(1073.4 737.1) rotate(-90) scale(1 1)"><text transform="translate(-1.12 0) scale(1.0157 1)" font-family="'Noto Sans CJK JP', 'Noto Sans CJK SC', 'Liberation Sans', sans-serif" font-weight="300" font-size="36.86" fill="#1a1a1a">Trend in total stress</text><text transform="translate(345.84 2.92) scale(1.3861 1)" font-family="'Noto Sans CJK JP', 'Noto Sans CJK SC', 'Liberation Sans', sans-serif" font-weight="300" font-size="41.68" fill="#1a1a1a">[</text><text transform="translate(363.79 0) scale(1.1236 1)" font-family="'Noto Sans CJK JP', 'Noto Sans CJK SC', 'Liberation Sans', sans-serif" font-weight="300" font-size="37.4" fill="#1a1a1a">N</text><text transform="translate(400.41 0) scale(1.0361 1)" font-family="'Noto Sans CJK JP', 'Noto Sans CJK SC', 'Liberation Sans', sans-serif" font-weight="300" font-size="37.8" fill="#1a1a1a">yr</text><text transform="translate(433.61 -17.4) scale(0.8534 1)" font-family="'Noto Sans CJK JP', 'Noto Sans CJK SC', 'Liberation Sans', sans-serif" font-weight="300" font-size="44" fill="#1a1a1a">-</text><text transform="translate(445.19 -19.4) scale(0.6548 1)" font-family="'Noto Sans CJK JP', 'Noto Sans CJK SC', 'Liberation Sans', sans-serif" font-weight="300" font-size="28.94" fill="#1a1a1a">1</text><text transform="translate(464.66 2.92) scale(1.3861 1)" font-family="'Noto Sans CJK JP', 'Noto Sans CJK SC', 'Liberation Sans', sans-serif" font-weight="300" font-size="41.68" fill="#1a1a1a">]</text></g>
<g transform="translate(43.4 1849.5) rotate(-90) scale(1 1)"><text transform="translate(-1.12 0) scale(1.0157 1)" font-family="'Noto Sans CJK JP', 'Noto Sans CJK SC', 'Liberation Sans', sans-serif" font-weight="300" font-size="36.86" fill="#1a1a1a">Trend in total stress</text><text transform="translate(345.84 2.92) scale(1.3861 1)" font-family="'Noto Sans CJK JP', 'Noto Sans CJK SC', 'Liberation Sans', sans-serif" font-weight="300" font-size="41.68" fill="#1a1a1a">[</text><text transform="translate(363.79 0) scale(1.1236 1)" font-family="'Noto Sans CJK JP', 'Noto Sans CJK SC', 'Liberation Sans', sans-serif" font-weight="300" font-size="37.4" fill="#1a1a1a">N</text><text transform="translate(400.41 0) scale(1.0361 1)" font-family="'Noto Sans CJK JP', 'Noto Sans CJK SC', 'Liberation Sans', sans-serif" font-weight="300" font-size="37.8" fill="#1a1a1a">yr</text><text transform="translate(433.61 -17.4) scale(0.8534 1)" font-family="'Noto Sans CJK JP', 'Noto Sans CJK SC', 'Liberation Sans', sans-serif" font-weight="300" font-size="44" fill="#1a1a1a">-</text><text transform="translate(445.19 -19.4) scale(0.6548 1)" font-family="'Noto Sans CJK JP', 'Noto Sans CJK SC', 'Liberation Sans', sans-serif" font-weight="300" font-size="28.94" fill="#1a1a1a">1</text><text transform="translate(464.66 2.92) scale(1.3861 1)" font-family="'Noto Sans CJK JP', 'Noto Sans CJK SC', 'Liberation Sans', sans-serif" font-weight="300" font-size="41.68" fill="#1a1a1a">]</text></g>
<g transform="translate(1073.4 1882) rotate(-90) scale(1 1)"><text transform="translate(-1.12 0) scale(1.0157 1)" font-family="'Noto Sans CJK JP', 'Noto Sans CJK SC', 'Liberation Sans', sans-serif" font-weight="300" font-size="36.86" fill="#1a1a1a">Trend in total stress</text><text transform="translate(345.84 2.92) scale(1.3861 1)" font-family="'Noto Sans CJK JP', 'Noto Sans CJK SC', 'Liberation Sans', sans-serif" font-weight="300" font-size="41.68" fill="#1a1a1a">[</text><text transform="translate(363.79 0) scale(1.1236 1)" font-family="'Noto Sans CJK JP', 'Noto Sans CJK SC', 'Liberation Sans', sans-serif" font-weight="300" font-size="37.4" fill="#1a1a1a">N</text><text transform="translate(400.41 0) scale(1.0361 1)" font-family="'Noto Sans CJK JP', 'Noto Sans CJK SC', 'Liberation Sans', sans-serif" font-weight="300" font-size="37.8" fill="#1a1a1a">yr</text><text transform="translate(433.61 -17.4) scale(0.8534 1)" font-family="'Noto Sans CJK JP', 'Noto Sans CJK SC', 'Liberation Sans', sans-serif" font-weight="300" font-size="44" fill="#1a1a1a">-</text><text transform="translate(445.19 -19.4) scale(0.6548 1)" font-family="'Noto Sans CJK JP', 'Noto Sans CJK SC', 'Liberation Sans', sans-serif" font-weight="300" font-size="28.94" fill="#1a1a1a">1</text><text transform="translate(464.66 2.92) scale(1.3861 1)" font-family="'Noto Sans CJK JP', 'Noto Sans CJK SC', 'Liberation Sans', sans-serif" font-weight="300" font-size="41.68" fill="#1a1a1a">]</text></g>
<line x1="198.25" y1="1812.75" x2="1187.46" y2="1595.78" stroke="#000" stroke-width="2.8"/><path d="M1207 1591.5L1176.21 1586.48L1186 1596.11L1181.14 1608.95Z" fill="#000"/>
<text transform="translate(120.56 63.99) scale(1.0000 1)" font-family="'Liberation Sans', Arial, Helvetica, sans-serif" stroke="#fdfdfd" stroke-width="1.27" stroke-linejoin="round" font-size="36.2" fill="#1a1a1a">×</text><text transform="translate(1154.06 62.99) scale(1.0000 1)" font-family="'Liberation Sans', Arial, Helvetica, sans-serif" stroke="#fdfdfd" stroke-width="1.27" stroke-linejoin="round" font-size="36.2" fill="#1a1a1a">×</text><text transform="translate(123.86 1174.99) scale(1.0000 1)" font-family="'Liberation Sans', Arial, Helvetica, sans-serif" stroke="#fdfdfd" stroke-width="1.27" stroke-linejoin="round" font-size="36.2" fill="#1a1a1a">×</text><text transform="translate(1154.06 1174.99) scale(1.0000 1)" font-family="'Liberation Sans', Arial, Helvetica, sans-serif" stroke="#fdfdfd" stroke-width="1.27" stroke-linejoin="round" font-size="36.2" fill="#1a1a1a">×</text>
</svg>
</body>
</html>
